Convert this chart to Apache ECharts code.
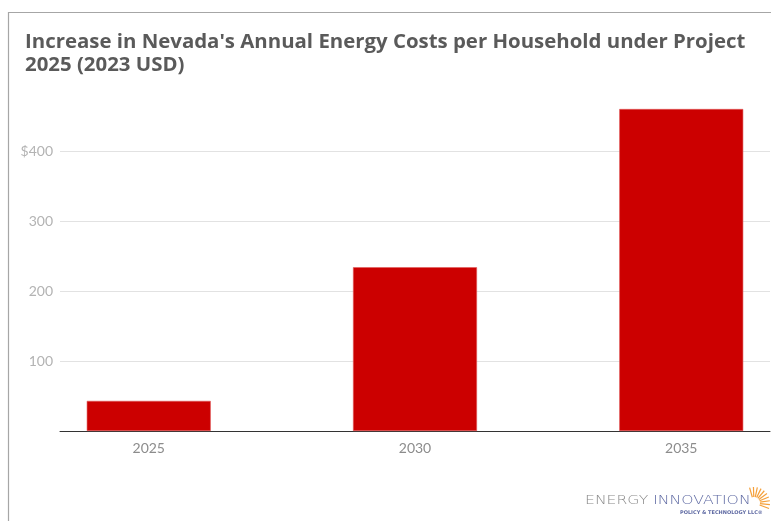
<!DOCTYPE html>
<html>
<head>
<meta charset="utf-8">
<script src="https://cdn.jsdelivr.net/npm/echarts@6/dist/echarts.min.js"></script>
<style>
html,body{margin:0;padding:0;background:#fff;}
#chart{width:771px;height:521px;}
</style>
</head>
<body>
<div id="chart"></div>
<script>
const titleText = "Increase in Nevada's Annual Energy Costs per Household under Project\n2025 (2023 USD)";
const years = ["2025", "2030", "2035"];
const costIncrease = [43, 234, 460];
const yTickValues = [100, 200, 300, 400];
const yTickLabels = ["100", "200", "300", "$400"];

const chart = echarts.init(document.getElementById('chart'), null, {renderer: 'canvas'});

const sunRays = [];
for (let k = 0; k < 10; k++) {
  const a = (-20 + k * 14) * Math.PI / 180;
  sunRays.push({
    type: 'line',
    shape: {x1: 754 + 6 * Math.cos(a), y1: 503 - 6 * Math.sin(a), x2: 754 + 16 * Math.cos(a), y2: 503 - 16 * Math.sin(a)},
    style: {stroke: '#f5a03a', lineWidth: 1.2},
    silent: true
  });
}

chart.setOption({
  animation: false,
  backgroundColor: '#ffffff',
  title: {
    text: titleText,
    left: 20,
    top: 26,
    textStyle: {
      fontFamily: 'Open Sans',
      fontWeight: 'bold',
      fontSize: 20.4,
      lineHeight: 23,
      color: '#5a5a5a'
    }
  },
  grid: {left: 60, right: 1, top: 81, bottom: 90, containLabel: false},
  xAxis: {
    type: 'value',
    min: -1 / 3,
    max: 7 / 3,
    axisLine: {show: true, lineStyle: {color: '#333333', width: 1}},
    axisTick: {show: false},
    splitLine: {show: false},
    axisLabel: {
      customValues: years.map((y, i) => i),
      formatter: v => years[Math.round(v)],
      color: '#8c8c8c',
      fontFamily: 'Lato',
      fontSize: 14,
      margin: 10
    }
  },
  yAxis: {
    type: 'value',
    min: 0,
    max: 500,
    interval: 100,
    axisLine: {show: false},
    axisTick: {show: false},
    splitLine: {show: true, showMaxLine: false, lineStyle: {color: '#e2e2e2', width: 1}},
    axisLabel: {
      showMinLabel: false,
      showMaxLabel: false,
      formatter: v => { const i = yTickValues.indexOf(v); return i >= 0 ? yTickLabels[i] : ''; },
      color: '#b3b3b3',
      fontFamily: 'Lato',
      fontSize: 14,
      margin: 7
    }
  },
  series: [{
    type: 'bar',
    barWidth: 124,
    data: years.map((y, i) => [i, costIncrease[i]]),
    itemStyle: {color: '#cc0000', borderColor: '#e05a5a', borderWidth: 0.6}
  }],
  graphic: [
    {type: 'polyline', shape: {points: [[8.5, 600], [8.5, 12.5], [800, 12.5]]}, style: {stroke: '#a6a6a6', lineWidth: 1.2, fill: null}, silent: true},
    {type: 'text', x: 585, y: 507.5, scaleX: 1.36, style: {
      text: '{a|ENERGY }{b|INNOVATION}',
      verticalAlign: 'bottom',
      rich: {
        a: {font: '200 11.5px "DejaVu Sans"', fill: '#8a8a8a'},
        b: {font: '200 11.5px "DejaVu Sans"', fill: '#5f6aa3'}
      }
    }, silent: true},
    {type: 'text', x: 680, y: 510, style: {text: 'POLICY & TECHNOLOGY LLC®', font: 'bold 5px "DejaVu Sans"', fill: '#5f6aa3'}, silent: true}
  ].concat(sunRays)
});
</script>
</body>
</html>
